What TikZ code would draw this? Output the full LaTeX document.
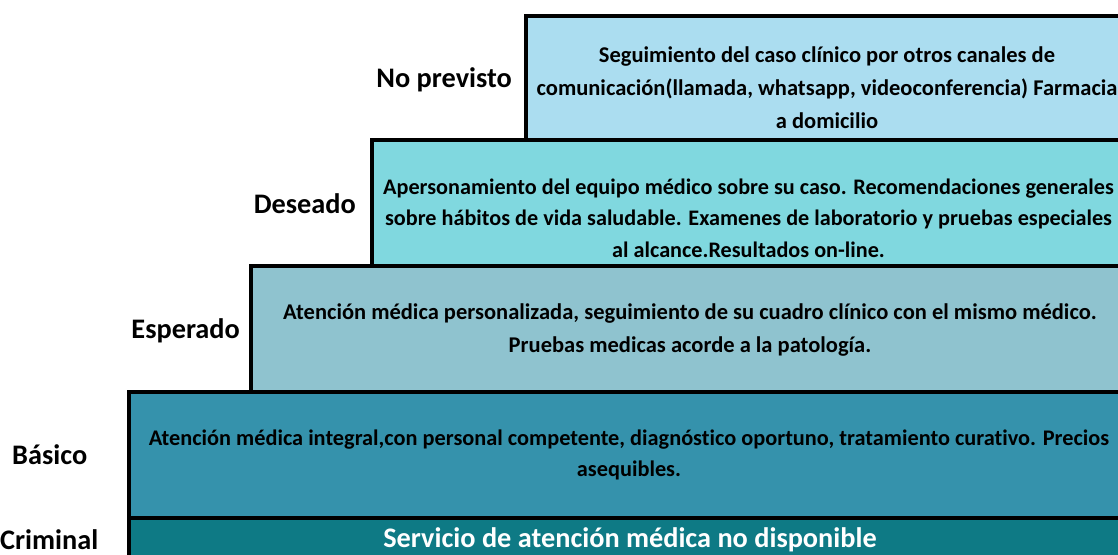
\documentclass[tikz,border=0pt]{standalone}
\usepackage{fontspec}
\setmainfont{Carlito}[Ligatures=NoCommon]
\definecolor{cA}{HTML}{ABDDF0}
\definecolor{cB}{HTML}{80D8DF}
\definecolor{cC}{HTML}{8FC3CF}
\definecolor{cD}{HTML}{3592AC}
\definecolor{cE}{HTML}{0E7A85}
\begin{document}
\begin{tikzpicture}[x=1pt,y=-1pt,
  tier/.style={draw=black,line width=4pt,inner sep=0pt,anchor=north west},
  body/.style={font=\bfseries\fontsize{22.5}{33}\selectfont,align=center,inner sep=0pt,text=black},
  lvl/.style={font=\bfseries\fontsize{28.3}{30}\selectfont,inner sep=0pt,text=black}]
\useasboundingbox (0,0) rectangle (1118,554);
% boxes
\node[tier,fill=cE,minimum width=1006pt,minimum height=74pt] (b5) at (127,516) {};
\node[tier,fill=cD,minimum width=1006pt,minimum height=126pt] (b4) at (127,390) {};
\node[tier,fill=cC,minimum width=884pt,minimum height=126pt] (b3) at (249,264) {};
\node[tier,fill=cB,minimum width=763pt,minimum height=125.5pt] (b2) at (370,138) {};
\node[tier,fill=cA,minimum width=609pt,minimum height=123.5pt] (b1) at (524,14) {};
% texts
\node[body] (t1) at (827,88) {Seguimiento del caso clínico por otros canales de\\comunicación(llamada, whatsapp, videoconferencia) Farmacia\\a domicilio};
\node[body,font=\bfseries\fontsize{22.2}{31.5}\selectfont] (t2) at (748.5,218) {Apersonamiento del equipo médico sobre su caso. Recomendaciones generales\\sobre hábitos de vida saludable. Examenes de laboratorio y pruebas especiales\\al alcance.Resultados on-line.};
\node[body] (t3) at (690,330) {Atención médica personalizada, seguimiento de su cuadro clínico con el mismo médico.\\Pruebas medicas acorde a la patología.};
\node[body,font=\bfseries\fontsize{22.3}{30.5}\selectfont] (t4) at (629,455) {Atención médica integral,con personal competente, diagnóstico oportuno, tratamiento curativo. Precios\\asequibles.};
\node[body,text=white,font=\bfseries\fontsize{28.3}{30}\selectfont] (t5) at (630,540) {Servicio de atención médica no disponible};
% level labels
\node[lvl,anchor=base east] (l1) at (512,87) {No previsto};
\node[lvl,anchor=base east] (l2) at (356,213) {Deseado};
\node[lvl,anchor=base east] (l3) at (240,338) {Esperado};
\node[lvl,anchor=base west] (l4) at (12,464) {Básico};
\node[lvl,anchor=base west] (l5) at (0,549) {Criminal};
\end{tikzpicture}
\end{document}
